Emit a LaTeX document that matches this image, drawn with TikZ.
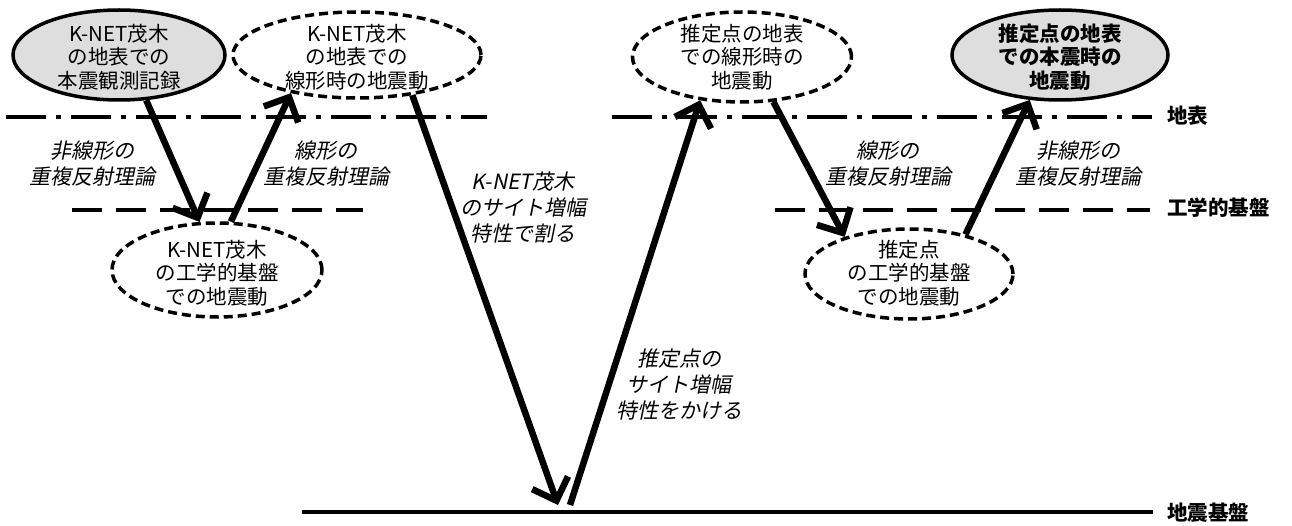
\documentclass[tikz,border=0pt]{standalone}
\usepackage{fontspec}
\setmainfont{Noto Sans CJK JP}
\newfontfamily\jpit{Noto Sans CJK JP}[FakeSlant=0.2]
\usetikzlibrary{shapes.geometric,arrows.meta}
\begin{document}
\begin{tikzpicture}[x=1pt,y=-1pt,
  ellbox/.style={ellipse, draw, line width=3.5pt, inner sep=0pt},
  obsell/.style={ellbox, fill=black!13},
  estell/.style={ellbox, dash pattern=on 9pt off 5pt},
  etext/.style={align=center, inner sep=0pt, font=\fontsize{20.5}{23.5}\selectfont},
  lab/.style={align=center, inner sep=0pt, font=\jpit\fontsize{21}{26}\selectfont},
  lvl/.style={anchor=west, inner sep=0pt, font=\bfseries\fontsize{20.5}{24}\selectfont},
  flow/.style={line width=6.5pt, -{Straight Barb[length=19pt,width=38pt]}},
  surf/.style={line width=4pt, dash pattern=on 40pt off 10pt on 5pt off 10pt},
  eng/.style={line width=4pt, dash pattern=on 30pt off 14pt},
  base/.style={line width=4.5pt}]
\fill[white] (0,0) rectangle (1292,526);
\useasboundingbox (0,0) rectangle (1292,526);

% level lines
\draw[surf] (6,117) -- (487,117);
\draw[surf] (612,117) -- (1152,117);
\draw[eng] (72,210) -- (363,210);
\draw[eng] (775,210) -- (1150,210);
\draw[base] (302,512) -- (1153,512);

% level labels
\node[lvl] (lsurf) at (1167,116) {地表};
\node[lvl] (leng) at (1167,208) {工学的基盤};
\node[lvl] (lbase) at (1167,513) {地震基盤};

% ellipses
\node[obsell, minimum width=212pt, minimum height=90pt] (e1) at (119,55) {};
\node[etext] (e1t) at (119,57) {K-NET茂木\\の地表での\\本震観測記録};
\node[estell, minimum width=248pt, minimum height=86pt] (e2) at (357,55) {};
\node[etext] (e2t) at (357,57) {K-NET茂木\\の地表での\\線形時の地震動};
\node[estell, minimum width=210pt, minimum height=94pt] (e3) at (217,270) {};
\node[etext] (e3t) at (217,273) {K-NET茂木\\の工学的基盤\\での地震動};
\node[estell, minimum width=219pt, minimum height=90pt] (e4) at (742,57) {};
\node[etext] (e4t) at (742,57) {推定点の地表\\での線形時の\\地震動};
\node[estell, minimum width=208pt, minimum height=90pt] (e5) at (909,274) {};
\node[etext] (e5t) at (909,273) {推定点\\の工学的基盤\\での地震動};
\node[obsell, minimum width=216pt, minimum height=90pt] (e6) at (1060,55) {};
\node[etext, font=\bfseries\fontsize{20.5}{23.5}\selectfont] (e6t) at (1060,57) {推定点の地表\\での本震時の\\地震動};

% labels
\node[lab] (l1) at (92,164) {非線形の\\重複反射理論};
\node[lab] (l2) at (326,164) {線形の\\重複反射理論};
\node[lab] (l3) at (523,208) {K-NET茂木\\のサイト増幅\\特性で割る};
\node[lab] (l4) at (679,384) {推定点の\\サイト増幅\\特性をかける};
\node[lab] (l5) at (888,164) {線形の\\重複反射理論};
\node[lab] (l6) at (1078,164) {非線形の\\重複反射理論};

% V bottom points
\coordinate (vb1) at (558,505);
\coordinate (vb2) at (570,505);

% arrows
\draw[flow] (e1.-59) -- (e3.110);
\draw[flow] (e3.74) -- (e2.210);
\draw[flow] (e2.-36) -- (vb1);
\draw[flow] (vb2) -- (e4.226);
\draw[flow] (e4.-55) -- (e5.150);
\draw[flow] (e5.35) -- (e6.236);
\end{tikzpicture}
\end{document}
